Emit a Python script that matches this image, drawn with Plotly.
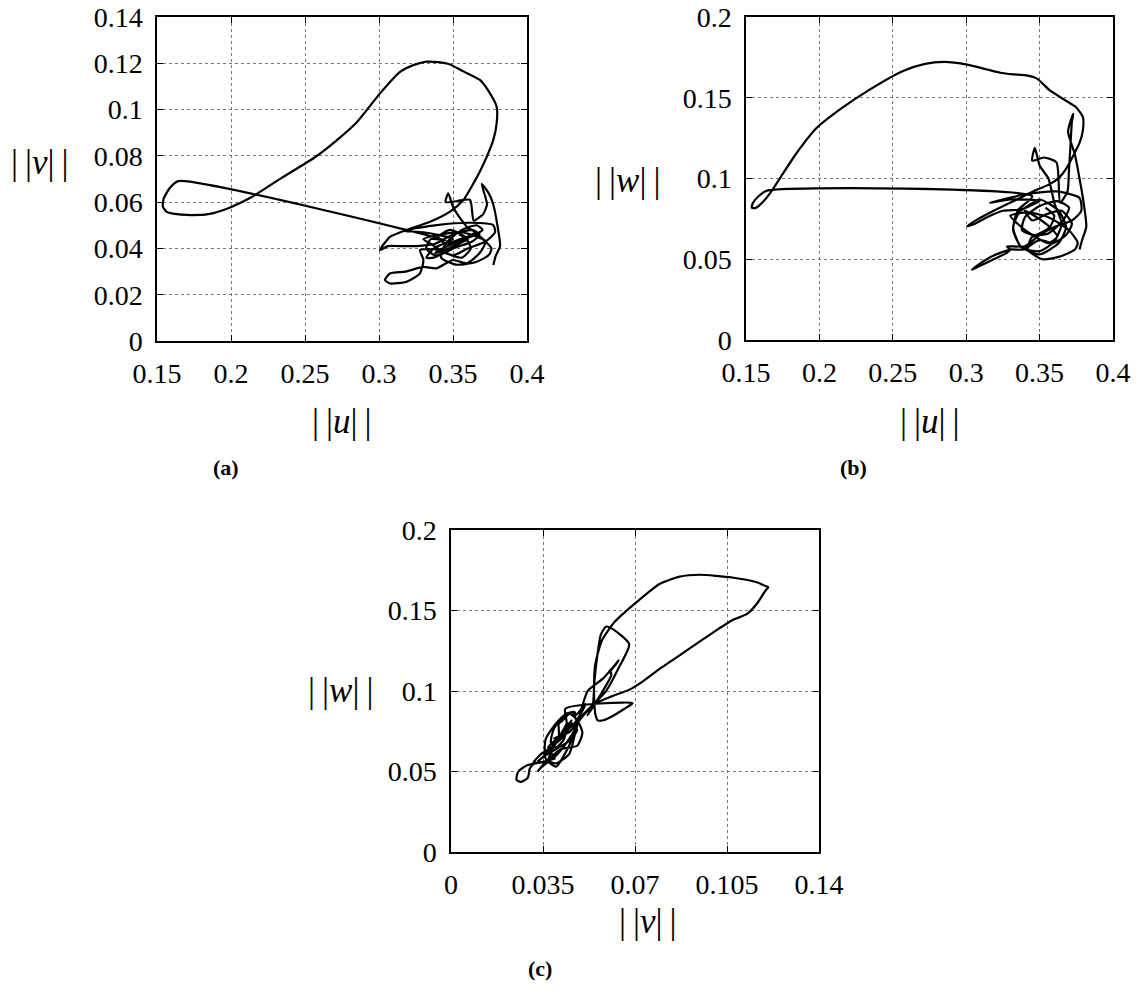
import plotly.graph_objects as go

# ---- trajectory data (u, v, w) ----
u = [0.3772, 0.3790, 0.3818, 0.3800, 0.3772, 0.3740, 0.3694, 0.3720, 0.3730, 0.3720,
     0.3710, 0.3700, 0.3690, 0.3640, 0.3615, 0.3530, 0.3450, 0.3468, 0.3500, 0.3560,
     0.3600, 0.3650, 0.3600, 0.3500, 0.3380, 0.3320, 0.3350, 0.3450,
     0.1644, 0.1585, 0.1545, 0.1540, 0.1566, 0.1618, 0.1664, 0.1732, 0.1845, 0.1982,
     0.2140, 0.2345, 0.2570, 0.2720, 0.2850, 0.3007, 0.3142, 0.3232, 0.3322, 0.3400,
     0.3480, 0.3570, 0.3682, 0.3750, 0.3795, 0.3795, 0.3772, 0.3728, 0.3680, 0.3638,
     0.3570, 0.3480, 0.3345, 0.3187, 0.3074, 0.3007,
     0.3060, 0.3142, 0.3250, 0.3380, 0.3500, 0.3630, 0.3680, 0.3630, 0.3500, 0.3370,
     0.3320, 0.3370, 0.3500, 0.3300, 0.3162, 0.3390, 0.3615, 0.3772, 0.3784, 0.3720,
     0.3600, 0.3500, 0.3400, 0.3277, 0.3300, 0.3277, 0.3187, 0.3074, 0.3040, 0.3074,
     0.3180, 0.3300, 0.3389, 0.3500, 0.3593, 0.3680, 0.3720, 0.3650, 0.3550, 0.3450,
     0.3400, 0.3480, 0.3580, 0.3620, 0.3560, 0.3450, 0.3350, 0.3300, 0.3420, 0.3560,
     0.3700, 0.3760, 0.3740, 0.3650, 0.3520, 0.3420, 0.3450, 0.3560, 0.3660, 0.3700,
     0.3620, 0.3500, 0.3400, 0.3380, 0.3470, 0.3570, 0.3600, 0.3540]
v = [0.0328, 0.0370, 0.0410, 0.0500, 0.0590, 0.0640, 0.0678, 0.0620, 0.0590, 0.0570,
     0.0555, 0.0545, 0.0540, 0.0520, 0.0610, 0.0605, 0.0600, 0.0638, 0.0580, 0.0520,
     0.0490, 0.0470, 0.0450, 0.0400, 0.0370, 0.0400, 0.0440, 0.0435,
     0.0691, 0.0660, 0.0615, 0.0580, 0.0558, 0.0549, 0.0546, 0.0544, 0.0548, 0.0574,
     0.0622, 0.0706, 0.0795, 0.0870, 0.0945, 0.1070, 0.1163, 0.1192, 0.1207, 0.1205,
     0.1195, 0.1165, 0.1128, 0.1070, 0.1012, 0.0940, 0.0868, 0.0796, 0.0730, 0.0681,
     0.0609, 0.0559, 0.0515, 0.0480, 0.0450, 0.0393,
     0.0410, 0.0410, 0.0410, 0.0420, 0.0460, 0.0480, 0.0460, 0.0430, 0.0400, 0.0360,
     0.0360, 0.0400, 0.0440, 0.0470, 0.0476, 0.0501, 0.0511, 0.0501, 0.0470, 0.0430,
     0.0400, 0.0370, 0.0395, 0.0393, 0.0350, 0.0292, 0.0256, 0.0249, 0.0264, 0.0292,
     0.0300, 0.0320, 0.0314, 0.0350, 0.0336, 0.0380, 0.0430, 0.0460, 0.0440, 0.0420,
     0.0450, 0.0480, 0.0450, 0.0400, 0.0360, 0.0380, 0.0420, 0.0440, 0.0460, 0.0470,
     0.0440, 0.0400, 0.0370, 0.0340, 0.0330, 0.0360, 0.0420, 0.0480, 0.0500, 0.0480,
     0.0450, 0.0420, 0.0390, 0.0380, 0.0400, 0.0430, 0.0440, 0.0460]
w = [0.0560, 0.0620, 0.0700, 0.0850, 0.1000, 0.1150, 0.1290, 0.1380, 0.1400, 0.1350,
     0.1200, 0.1050, 0.0920, 0.0850, 0.1100, 0.1130, 0.1110, 0.1190, 0.1080, 0.1000,
     0.0850, 0.0720, 0.0610, 0.0550, 0.0570, 0.0680, 0.0800, 0.0890,
     0.0925, 0.0890, 0.0845, 0.0818, 0.0818, 0.0857, 0.0909, 0.1003, 0.1158, 0.1314,
     0.1428, 0.1552, 0.1666, 0.1710, 0.1722, 0.1705, 0.1675, 0.1655, 0.1645, 0.1640,
     0.1620, 0.1545, 0.1480, 0.1440, 0.1380, 0.1300, 0.1220, 0.1140, 0.1060, 0.1010,
     0.0965, 0.0930, 0.0870, 0.0800, 0.0745, 0.0705,
     0.0720, 0.0760, 0.0800, 0.0810, 0.0870, 0.0800, 0.0700, 0.0600, 0.0530, 0.0580,
     0.0700, 0.0800, 0.0860, 0.0870, 0.0850, 0.0900, 0.0920, 0.0880, 0.0800, 0.0740,
     0.0700, 0.0650, 0.0580, 0.0580, 0.0560, 0.0540, 0.0500, 0.0450, 0.0435, 0.0460,
     0.0520, 0.0560, 0.0560, 0.0620, 0.0600, 0.0650, 0.0720, 0.0800, 0.0780, 0.0740,
     0.0800, 0.0760, 0.0690, 0.0640, 0.0600, 0.0650, 0.0720, 0.0770, 0.0790, 0.0760,
     0.0680, 0.0600, 0.0560, 0.0520, 0.0500, 0.0560, 0.0640, 0.0660, 0.0740, 0.0820,
     0.0860, 0.0830, 0.0760, 0.0680, 0.0650, 0.0700, 0.0770, 0.0820]

# ---- tick labels ----
u_ticks = [0.15, 0.2, 0.25, 0.3, 0.35, 0.4]
u_ticktext = ["0.15", "0.2", "0.25", "0.3", "0.35", "0.4"]
v_ticks_a = [0, 0.02, 0.04, 0.06, 0.08, 0.1, 0.12, 0.14]
v_ticktext_a = ["0", "0.02", "0.04", "0.06", "0.08", "0.1", "0.12", "0.14"]
w_ticks = [0, 0.05, 0.1, 0.15, 0.2]
w_ticktext = ["0", "0.05", "0.1", "0.15", "0.2"]
v_ticks_c = [0, 0.035, 0.07, 0.105, 0.14]
v_ticktext_c = ["0", "0.035", "0.07", "0.105", "0.14"]

W, H = 1146, 1003
SERIF = "Liberation Serif"

def px_x(px):
    return px / W

def px_y(py):
    return 1 - py / H

def dom_x(x0, x1):
    return [px_x(x0), px_x(x1)]

def dom_y(ytop, ybot):
    return [px_y(ybot), px_y(ytop)]

fig = go.Figure()
line = dict(color="black", width=2.2, shape="spline", smoothing=0.6)
fig.add_trace(go.Scatter(x=u, y=v, mode="lines", line=line, xaxis="x", yaxis="y", showlegend=False))
fig.add_trace(go.Scatter(x=u, y=w, mode="lines", line=line, xaxis="x2", yaxis="y2", showlegend=False))
fig.add_trace(go.Scatter(x=v, y=w, mode="lines", line=line, xaxis="x3", yaxis="y3", showlegend=False))

def axis_style(**kw):
    d = dict(showline=True, linecolor="black", linewidth=1.5, mirror="ticks",
             ticks="inside", ticklen=6, tickcolor="black", tickwidth=1,
             showgrid=True, gridcolor="#777777", griddash="dot", gridwidth=1,
             zeroline=False, automargin=False, ticklabeloverflow="allow",
             tickfont=dict(family=SERIF, size=28, color="black"),
             ticklabelstandoff=7)
    d.update(kw)
    return d

fig.update_layout(
    template="none",
    font=dict(family=SERIF),
    width=W, height=H, margin=dict(l=0, r=0, t=0, b=0),
    plot_bgcolor="white", paper_bgcolor="white",
    xaxis=axis_style(domain=dom_x(157, 527), range=[0.15, 0.4], tickvals=u_ticks, ticktext=u_ticktext, anchor="y"),
    yaxis=axis_style(domain=dom_y(17, 341), range=[0, 0.14], tickvals=v_ticks_a, ticktext=v_ticktext_a, anchor="x"),
    xaxis2=axis_style(domain=dom_x(746, 1113), range=[0.15, 0.4], tickvals=u_ticks, ticktext=u_ticktext, anchor="y2"),
    yaxis2=axis_style(domain=dom_y(17, 340), range=[0, 0.2], tickvals=w_ticks, ticktext=w_ticktext, anchor="x2"),
    xaxis3=axis_style(domain=dom_x(451, 819), range=[0, 0.14], tickvals=v_ticks_c, ticktext=v_ticktext_c, anchor="y3"),
    yaxis3=axis_style(domain=dom_y(530, 852), range=[0, 0.2], tickvals=w_ticks, ticktext=w_ticktext, anchor="x3"),
)

def label(text, px, py, size=35, family=SERIF):
    fig.add_annotation(x=px_x(px), y=px_y(py), xref="paper", yref="paper", text=text,
                       showarrow=False, xanchor="center", yanchor="middle", borderpad=0,
                       font=dict(family=family, size=size, color="black"))

TS = "\u2009"
def norm(sym):
    return "|" + TS + "|<i>" + sym + "</i>|" + TS + "|"

label(norm("v"), 40, 162)
label(norm("u"), 342, 421)
label(norm("w"), 627, 180)
label(norm("u"), 930, 421)
label(norm("w"), 340, 690)
label(norm("v"), 648, 921)
label("<b>(a)</b>", 226, 467, size=22)
label("<b>(b)</b>", 853, 467, size=22)
label("<b>(c)</b>", 540, 968, size=22)

# remove the default 8px page margin so the figure fills the window exactly
fig.write_html("out.html", config={"displayModeBar": False},
               post_script="document.body.style.margin='0px';")
